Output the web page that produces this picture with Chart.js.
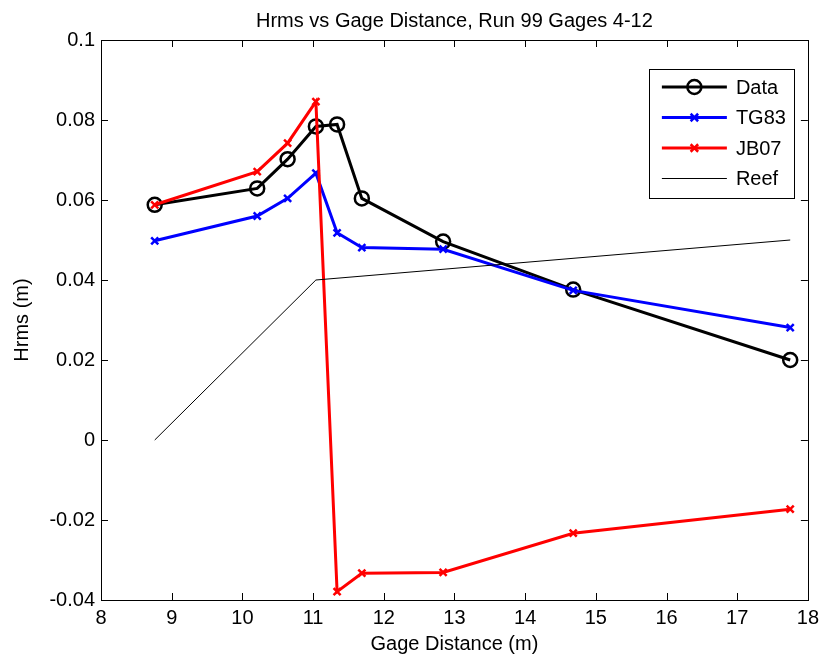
<!DOCTYPE html>
<html>
<head>
<meta charset="utf-8">
<script src="https://cdn.jsdelivr.net/npm/chart.js@4"></script>
<style>
    body { margin: 0; background: #fff; }
    #wrap { width: 825px; height: 658px; }
</style>
</head>
<body>
<div id="wrap"><canvas id="hrmsChart" width="825" height="658"></canvas></div>
<script>
// Gage positions (m)
const gageX = [8.76, 10.21, 10.64, 11.04, 11.34, 11.69, 12.84, 14.68, 17.75];
// Hrms values (m)
const dataHrms = [0.0588, 0.0629, 0.0702, 0.0784, 0.0789, 0.0604, 0.0496, 0.0376, 0.0200];
const tg83Hrms = [0.0498, 0.0560, 0.0604, 0.0667, 0.0518, 0.0481, 0.0477, 0.0374, 0.0281];
const jb07Hrms = [0.0588, 0.0671, 0.0742, 0.0846, -0.0379, -0.0333, -0.0331, -0.0233, -0.0173];
// Reef profile
const reefX = [8.76, 11.04, 17.75];
const reefY = [0, 0.04, 0.05];
// Axis ticks
const xTicks = [8, 9, 10, 11, 12, 13, 14, 15, 16, 17, 18];
const yTicks = [-0.04, -0.02, 0, 0.02, 0.04, 0.06, 0.08, 0.1];

const FONT = "'Liberation Sans', Arial, sans-serif";

function pairs(xs, ys) {
    return xs.map((x, i) => ({ x: x, y: ys[i] }));
}

// Box round the plot with MATLAB-style inward ticks
const boxPlugin = {
    id: "boxPlugin",
    afterDatasetsDraw(chart) {
        const { ctx, chartArea: a, scales } = chart;
        const len = 7;
        ctx.save();
        ctx.strokeStyle = "#000";
        ctx.lineWidth = 1;
        ctx.beginPath();
        xTicks.forEach((v) => {
            const px = Math.round(scales.x.getPixelForValue(v)) + 0.5;
            ctx.moveTo(px, a.bottom);
            ctx.lineTo(px, a.bottom - len);
            ctx.moveTo(px, a.top);
            ctx.lineTo(px, a.top + len);
        });
        yTicks.forEach((v) => {
            const py = Math.round(scales.y.getPixelForValue(v)) + 0.5;
            ctx.moveTo(a.left, py);
            ctx.lineTo(a.left + len, py);
            ctx.moveTo(a.right, py);
            ctx.lineTo(a.right - len, py);
        });
        ctx.stroke();
        ctx.strokeRect(Math.round(a.left) + 0.5, Math.round(a.top) + 0.5,
            Math.round(a.right - a.left), Math.round(a.bottom - a.top));
        ctx.restore();
    },
};

// Legend box in the top right corner
const legendPlugin = {
    id: "legendPlugin",
    afterDraw(chart) {
        const { ctx, chartArea: a } = chart;
        const w = 145, h = 129, rowH = 30.5;
        const x0 = a.right - 14 - w, y0 = a.top + 29;
        ctx.save();
        ctx.fillStyle = "#fff";
        ctx.fillRect(x0, y0, w, h);
        ctx.strokeStyle = "#000";
        ctx.lineWidth = 1;
        ctx.strokeRect(Math.round(x0) + 0.5, Math.round(y0) + 0.5, w, h);
        const order = [0, 1, 2, 3];
        order.forEach((di, i) => {
            const ds = chart.data.datasets[di];
            const cy = y0 + 18 + i * rowH;
            const lx0 = x0 + 13, lx1 = x0 + 78, mx = (lx0 + lx1) / 2;
            ctx.strokeStyle = ds.borderColor;
            ctx.lineWidth = ds.borderWidth;
            ctx.beginPath();
            ctx.moveTo(lx0, cy);
            ctx.lineTo(lx1, cy);
            ctx.stroke();
            if (ds.pointRadius > 0) {
                ctx.lineWidth = ds.pointBorderWidth;
                ctx.beginPath();
                if (ds.pointStyle === "circle") {
                    ctx.arc(mx, cy, ds.pointRadius, 0, Math.PI * 2);
                } else {
                    const r = ds.pointRadius * 0.75;
                    ctx.moveTo(mx - r, cy - r);
                    ctx.lineTo(mx + r, cy + r);
                    ctx.moveTo(mx - r, cy + r);
                    ctx.lineTo(mx + r, cy - r);
                }
                ctx.stroke();
            }
            ctx.fillStyle = "#000";
            ctx.font = "20px " + FONT;
            ctx.textBaseline = "middle";
            ctx.textAlign = "left";
            ctx.fillText(ds.label, x0 + 87, cy + 1);
        });
        ctx.restore();
    },
};

const ctx = document.getElementById("hrmsChart").getContext("2d");
const hrmsChart = new Chart(ctx, {
    type: "line",
    data: {
        datasets: [
            {
                label: "Data",
                data: pairs(gageX, dataHrms),
                borderColor: "#000000",
                borderWidth: 3,
                pointStyle: "circle",
                pointRadius: 7,
                pointBorderWidth: 2.5,
                pointBorderColor: "#000000",
                pointBackgroundColor: "rgba(0,0,0,0)",
                order: 3,
            },
            {
                label: "TG83",
                data: pairs(gageX, tg83Hrms),
                borderColor: "#0000ff",
                borderWidth: 3,
                pointStyle: "crossRot",
                pointRadius: 5,
                pointBorderWidth: 2.5,
                pointBorderColor: "#0000ff",
                order: 2,
            },
            {
                label: "JB07",
                data: pairs(gageX, jb07Hrms),
                borderColor: "#ff0000",
                borderWidth: 3,
                pointStyle: "crossRot",
                pointRadius: 5,
                pointBorderWidth: 2.5,
                pointBorderColor: "#ff0000",
                order: 1,
            },
            {
                label: "Reef",
                data: pairs(reefX, reefY),
                borderColor: "#000000",
                borderWidth: 1,
                pointRadius: 0,
                order: 0,
            },
        ],
    },
    options: {
        responsive: false,
        animation: false,
        devicePixelRatio: 1,
        layout: { padding: { left: 0, right: 17, top: 0, bottom: 0 } },
        elements: { line: { tension: 0, fill: false } },
        plugins: {
            legend: { display: false },
            tooltip: { enabled: false },
            title: {
                display: true,
                fullSize: false,
                text: "Hrms vs Gage Distance, Run 99 Gages 4-12",
                color: "#000",
                font: { family: FONT, size: 20, weight: "normal", lineHeight: 1.2 },
                padding: { top: 9, bottom: 7 },
            },
        },
        scales: {
            x: {
                type: "linear",
                min: 8,
                max: 18,
                afterFit(scale) { scale.height = 58; },
                afterBuildTicks(scale) { scale.ticks = xTicks.map((v) => ({ value: v })); },
                grid: { display: false, drawTicks: false },
                border: { display: false },
                ticks: {
                    color: "#000",
                    padding: 6,
                    maxRotation: 0,
                    font: { family: FONT, size: 20 },
                },
                title: {
                    display: true,
                    text: "Gage Distance (m)",
                    color: "#000",
                    font: { family: FONT, size: 20, lineHeight: 1.2 },
                    padding: { top: 0, bottom: 2 },
                },
            },
            y: {
                type: "linear",
                min: -0.04,
                max: 0.1,
                afterFit(scale) { scale.width = 101; },
                afterBuildTicks(scale) { scale.ticks = yTicks.map((v) => ({ value: v })); },
                grid: { display: false, drawTicks: false },
                border: { display: false },
                ticks: {
                    color: "#000",
                    padding: 6,
                    font: { family: FONT, size: 20 },
                    callback: (v) => String(+Number(v).toFixed(3)),
                },
                title: {
                    display: true,
                    text: "Hrms (m)",
                    color: "#000",
                    font: { family: FONT, size: 20, lineHeight: 1.2 },
                    padding: { top: 10, bottom: 0 },
                },
            },
        },
    },
    plugins: [boxPlugin, legendPlugin],
});
</script>
</body>
</html>
